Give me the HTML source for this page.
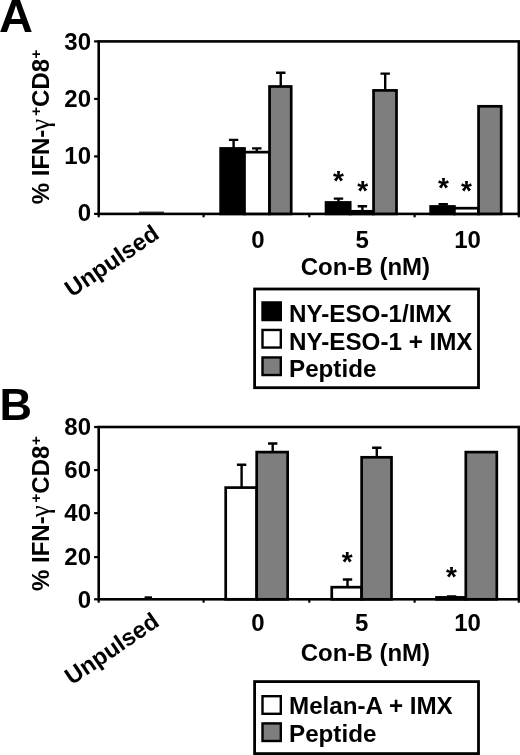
<!DOCTYPE html>
<html><head><meta charset="utf-8"><title>Figure</title>
<style>
html,body{margin:0;padding:0;background:#fff;}
body{width:520px;height:755px;overflow:hidden;}
svg{display:block;}
text{font-family:"Liberation Sans",Arial,Helvetica,sans-serif;font-weight:bold;fill:#000;}
.tk{font-size:24px;}
.xl{font-size:24px;}
.yl{font-size:24px;}
.gm{font-family:"Liberation Serif","DejaVu Serif",serif;font-weight:normal;font-size:27px;}
.sup{font-size:15px;}
.pl{font-size:45px;}
.lg{font-size:24.2px;}
.ast{font-size:28px;font-weight:bold;}
</style></head><body>
<svg width="520" height="755" viewBox="0 0 520 755">
<rect width="520" height="755" fill="#fff"/>
<rect x="98.7" y="41.4" width="420.09999999999997" height="172.5" fill="none" stroke="#000" stroke-width="2.6"/>
<line x1="94.10000000000001" y1="213.90" x2="98.7" y2="213.90" stroke="#000" stroke-width="2.2"/>
<text x="91" y="221.10" text-anchor="end" class="tk">0</text>
<line x1="94.10000000000001" y1="156.40" x2="98.7" y2="156.40" stroke="#000" stroke-width="2.2"/>
<text x="91" y="164.00" text-anchor="end" class="tk">10</text>
<line x1="94.10000000000001" y1="98.90" x2="98.7" y2="98.90" stroke="#000" stroke-width="2.2"/>
<text x="91" y="107.00" text-anchor="end" class="tk">20</text>
<line x1="94.10000000000001" y1="41.40" x2="98.7" y2="41.40" stroke="#000" stroke-width="2.2"/>
<text x="91" y="49.90" text-anchor="end" class="tk">30</text>
<line x1="98.70" y1="213.9" x2="98.70" y2="217.3" stroke="#000" stroke-width="2.2"/>
<line x1="203.60" y1="213.9" x2="203.60" y2="217.3" stroke="#000" stroke-width="2.2"/>
<line x1="309.30" y1="213.9" x2="309.30" y2="217.3" stroke="#000" stroke-width="2.2"/>
<line x1="414.60" y1="213.9" x2="414.60" y2="217.3" stroke="#000" stroke-width="2.2"/>
<line x1="518.80" y1="213.9" x2="518.80" y2="217.3" stroke="#000" stroke-width="2.2"/>
<line x1="139" y1="212.2" x2="164" y2="212.2" stroke="#000" stroke-width="1.1"/>
<rect x="220.65" y="148.45" width="23.85" height="65.45" fill="#000" stroke="#000" stroke-width="2.7"/>
<path d="M233.60 148.00V139.90M228.90 139.90H238.30" stroke="#000" stroke-width="2.4" fill="none"/>
<rect x="244.50" y="152.15" width="25.05" height="61.75" fill="#fff" stroke="#000" stroke-width="2.7"/>
<path d="M256.80 152.00V148.40M252.10 148.40H261.50" stroke="#000" stroke-width="2.4" fill="none"/>
<rect x="269.55" y="86.50" width="21.65" height="127.40" fill="#7e7e7e" stroke="#000" stroke-width="2.7"/>
<path d="M280.75 86.50V72.75M276.05 72.75H285.45" stroke="#000" stroke-width="2.4" fill="none"/>
<rect x="326.05" y="202.45" width="24.15" height="11.45" fill="#000" stroke="#000" stroke-width="2.7"/>
<path d="M338.50 202.00V198.65M333.80 198.65H343.20" stroke="#000" stroke-width="2.4" fill="none"/>
<rect x="350.20" y="211.30" width="23.35" height="2.60" fill="#fff" stroke="#000" stroke-width="2.7"/>
<path d="M362.40 211.00V206.25M357.70 206.25H367.10" stroke="#000" stroke-width="2.4" fill="none"/>
<rect x="373.55" y="90.40" width="22.95" height="123.50" fill="#7e7e7e" stroke="#000" stroke-width="2.7"/>
<path d="M385.20 90.40V73.60M380.50 73.60H389.90" stroke="#000" stroke-width="2.4" fill="none"/>
<rect x="430.65" y="206.45" width="23.75" height="7.45" fill="#000" stroke="#000" stroke-width="2.7"/>
<path d="M443.20 206.00V204.20M438.50 204.20H447.90" stroke="#000" stroke-width="2.4" fill="none"/>
<rect x="454.40" y="208.20" width="24.15" height="5.70" fill="#fff" stroke="#000" stroke-width="2.7"/>
<rect x="478.55" y="106.30" width="22.65" height="107.60" fill="#7e7e7e" stroke="#000" stroke-width="2.7"/>
<text x="338.5" y="190.0" text-anchor="middle" class="ast">*</text>
<text x="362.6" y="200.10000000000002" text-anchor="middle" class="ast">*</text>
<text x="443.4" y="197.20000000000002" text-anchor="middle" class="ast">*</text>
<text x="466.4" y="200.10000000000002" text-anchor="middle" class="ast">*</text>
<text x="258" y="247.5" text-anchor="middle" class="tk">0</text>
<text x="362.1" y="247.5" text-anchor="middle" class="tk">5</text>
<text x="467.6" y="247.5" text-anchor="middle" class="tk">10</text>
<text transform="translate(71.8,297.8) rotate(-34.3)" class="xl" style="font-size:23.6px">Unpulsed</text>
<text x="365.4" y="275" text-anchor="middle" class="xl">Con-B (nM)</text>
<text transform="translate(49,204.3) rotate(-90)" class="yl">% IFN-<tspan class="gm" dx="-1">γ</tspan><tspan class="sup" dy="-8.2" dx="3">+</tspan><tspan dy="8.2" dx="0">CD8</tspan><tspan class="sup" dy="-8.2" dx="0.5">+</tspan></text>
<text x="-1" y="31.8" class="pl" style="font-size:47px">A</text>
<rect x="254.6" y="289" width="223.9" height="98.7" fill="#fff" stroke="#000" stroke-width="2.8"/>
<rect x="262.5" y="302.45" width="18.3" height="17.6" fill="#000" stroke="#000" stroke-width="2.4"/>
<text x="289" y="321.95" class="lg">NY-ESO-1/IMX</text>
<rect x="262.5" y="329.95" width="18.3" height="17.6" fill="#fff" stroke="#000" stroke-width="2.4"/>
<text x="289" y="349.9" class="lg">NY-ESO-1 + IMX</text>
<rect x="262.5" y="357.45" width="18.3" height="17.6" fill="#7e7e7e" stroke="#000" stroke-width="2.4"/>
<text x="289" y="377.05" class="lg">Peptide</text>
<rect x="98.7" y="427.0" width="420.09999999999997" height="172.29999999999995" fill="none" stroke="#000" stroke-width="2.6"/>
<line x1="94.10000000000001" y1="599.30" x2="98.7" y2="599.30" stroke="#000" stroke-width="2.2"/>
<text x="91" y="607.90" text-anchor="end" class="tk">0</text>
<line x1="94.10000000000001" y1="557.12" x2="98.7" y2="557.12" stroke="#000" stroke-width="2.2"/>
<text x="91" y="564.82" text-anchor="end" class="tk">20</text>
<line x1="94.10000000000001" y1="513.15" x2="98.7" y2="513.15" stroke="#000" stroke-width="2.2"/>
<text x="91" y="520.65" text-anchor="end" class="tk">40</text>
<line x1="94.10000000000001" y1="470.07" x2="98.7" y2="470.07" stroke="#000" stroke-width="2.2"/>
<text x="91" y="477.98" text-anchor="end" class="tk">60</text>
<line x1="94.10000000000001" y1="427.00" x2="98.7" y2="427.00" stroke="#000" stroke-width="2.2"/>
<text x="91" y="435.00" text-anchor="end" class="tk">80</text>
<line x1="98.70" y1="599.3" x2="98.70" y2="602.6999999999999" stroke="#000" stroke-width="2.2"/>
<line x1="203.60" y1="599.3" x2="203.60" y2="602.6999999999999" stroke="#000" stroke-width="2.2"/>
<line x1="309.30" y1="599.3" x2="309.30" y2="602.6999999999999" stroke="#000" stroke-width="2.2"/>
<line x1="414.60" y1="599.3" x2="414.60" y2="602.6999999999999" stroke="#000" stroke-width="2.2"/>
<line x1="518.80" y1="599.3" x2="518.80" y2="602.6999999999999" stroke="#000" stroke-width="2.2"/>
<line x1="144.6" y1="597.2" x2="152" y2="597.2" stroke="#000" stroke-width="1.8"/>
<rect x="225.70" y="487.60" width="31.00" height="111.70" fill="#fff" stroke="#000" stroke-width="2.7"/>
<path d="M241.60 487.60V464.80M236.90 464.80H246.30" stroke="#000" stroke-width="2.4" fill="none"/>
<rect x="256.70" y="452.10" width="30.95" height="147.20" fill="#7e7e7e" stroke="#000" stroke-width="2.7"/>
<path d="M272.70 452.10V443.50M268.00 443.50H277.40" stroke="#000" stroke-width="2.4" fill="none"/>
<rect x="331.75" y="587.20" width="29.90" height="12.10" fill="#fff" stroke="#000" stroke-width="2.7"/>
<path d="M347.50 587.20V579.50M342.80 579.50H352.20" stroke="#000" stroke-width="2.4" fill="none"/>
<rect x="361.65" y="457.30" width="29.85" height="142.00" fill="#7e7e7e" stroke="#000" stroke-width="2.7"/>
<path d="M376.80 457.30V447.80M372.10 447.80H381.50" stroke="#000" stroke-width="2.4" fill="none"/>
<rect x="436.50" y="597.40" width="29.30" height="1.90" fill="#fff" stroke="#000" stroke-width="2.7"/>
<path d="M451.60 597.40V596.40M446.90 596.40H456.30" stroke="#000" stroke-width="2.4" fill="none"/>
<rect x="465.80" y="452.10" width="31.00" height="147.20" fill="#7e7e7e" stroke="#000" stroke-width="2.7"/>
<text x="347.2" y="570.5999999999999" text-anchor="middle" class="ast">*</text>
<text x="451.4" y="586.3" text-anchor="middle" class="ast">*</text>
<text x="258" y="630.8" text-anchor="middle" class="tk">0</text>
<text x="361.8" y="630.8" text-anchor="middle" class="tk">5</text>
<text x="467.6" y="630.8" text-anchor="middle" class="tk">10</text>
<text transform="translate(71.8,685.5) rotate(-34.3)" class="xl" style="font-size:23.6px">Unpulsed</text>
<text x="365.4" y="661.2" text-anchor="middle" class="xl">Con-B (nM)</text>
<text transform="translate(49,591) rotate(-90)" class="yl">% IFN-<tspan class="gm" dx="-1">γ</tspan><tspan class="sup" dy="-8.2" dx="3">+</tspan><tspan dy="8.2" dx="0">CD8</tspan><tspan class="sup" dy="-8.2" dx="0.5">+</tspan></text>
<text x="-0.5" y="419.5" class="pl">B</text>
<rect x="254.6" y="681.6" width="223.9" height="72" fill="#fff" stroke="#000" stroke-width="2.8"/>
<rect x="262.5" y="696.2" width="18.3" height="17.6" fill="#fff" stroke="#000" stroke-width="2.4"/>
<text x="289" y="714" class="lg">Melan-A + IMX</text>
<rect x="262.5" y="723.4000000000001" width="18.3" height="17.6" fill="#7e7e7e" stroke="#000" stroke-width="2.4"/>
<text x="289" y="741.9" class="lg">Peptide</text>
</svg>
</body></html>
